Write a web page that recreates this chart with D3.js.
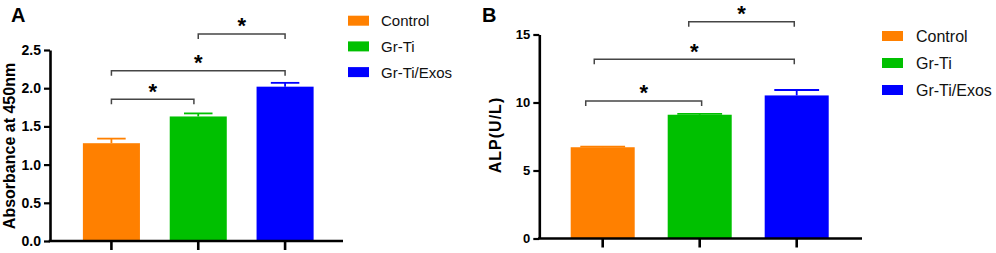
<!doctype html>
<html lang="en">
<head>
<meta charset="utf-8">
<title>Absorbance and ALP</title>
<script src="https://cdn.jsdelivr.net/npm/d3@7"></script>
<style>
	body { margin: 0; background: #fff; }
	svg { display: block; font-family: "Liberation Sans", Arial, sans-serif; }
</style>
</head>
<body>
<svg id="chart" width="996" height="253"></svg>
<script>
	// data
	var groups = ["Control", "Gr-Ti", "Gr-Ti/Exos"];
	var colors = ["#ff8000", "#00c000", "#0000ff"];

	var absMean = [1.28, 1.63, 2.02];
	var absErr = [0.06, 0.04, 0.05];
	var absTicks = [0, 0.5, 1.0, 1.5, 2.0, 2.5];
	// [from group, to group, height]
	var absSig = [[0, 0.95, 1.855], [0, 2, 2.23], [1, 2, 2.71]];

	var alpMean = [6.71, 9.10, 10.52];
	var alpErr = [0.05, 0.07, 0.40];
	var alpTicks = [0, 5, 10, 15];
	var alpSig = [[-0.175, 1.02, 10.11], [-0.087, 1.975, 13.18], [0.887, 1.975, 15.94]];

	var svg = d3.select("#chart");

	function panel(o) {
		var g = svg.append("g");
		var y = d3.scaleLinear().domain(o.domain).range([o.y0, o.y1]);
		var x = d3.scaleBand().domain(groups).range(o.xr)
			.paddingInner(o.pad).paddingOuter(o.pad / 2);
		var cx = function(i) { return x(groups[0]) + x.bandwidth() / 2 + i * x.step(); };

		// bars
		g.selectAll("rect.bar").data(o.mean).enter().append("rect")
			.attr("class", "bar")
			.attr("x", function(d, i) { return x(groups[i]); })
			.attr("width", x.bandwidth())
			.attr("y", function(d) { return y(d); })
			.attr("height", function(d) { return y(0) - y(d); })
			.style("fill", function(d, i) { return colors[i]; });

		// error bars (upper only)
		o.mean.forEach(function(d, i) {
			var c = cx(i), top = y(d + o.err[i]), hw = x.bandwidth() * o.cap / 2;
			g.append("line").attr("x1", c).attr("x2", c).attr("y1", y(d)).attr("y2", top)
				.style("stroke", colors[i]).style("stroke-width", 1.8);
			g.append("line").attr("x1", c - hw).attr("x2", c + hw).attr("y1", top).attr("y2", top)
				.style("stroke", colors[i]).style("stroke-width", 1.8);
		});

		// y axis
		var yAxis = d3.axisLeft(y).tickValues(o.ticks).tickFormat(d3.format(o.fmt))
			.tickSize(6).tickSizeOuter(0).tickPadding(3);
		var ya = g.append("g").attr("transform", "translate(" + o.ax + ",0)").call(yAxis);
		ya.select(".domain").style("stroke-width", 2.6);
		ya.selectAll(".tick line").style("stroke-width", 2.2);
		ya.selectAll(".tick text").style("font-size", o.tickFs + "px").style("font-weight", "bold").style("fill", "#000");

		// x axis
		var xAxis = d3.axisBottom(x).tickFormat("").tickSize(9).tickSizeOuter(0);
		var xa = g.append("g").attr("transform", "translate(0," + y(0) + ")").call(xAxis);
		xa.select(".domain").remove();
		xa.selectAll(".tick line").style("stroke-width", 2.6);
		g.append("line").attr("x1", o.ax - 1.3).attr("x2", o.axEnd).attr("y1", y(0)).attr("y2", y(0))
			.style("stroke", "#000").style("stroke-width", 2.6);

		// significance brackets
		o.sig.forEach(function(s) {
			var x1 = cx(s[0]), x2 = cx(s[1]), h = y(s[2]);
			g.append("path")
				.attr("d", "M" + x1 + "," + (h + 5) + "V" + h + "H" + x2 + "V" + (h + 5))
				.style("fill", "none").style("stroke", "#454545").style("stroke-width", 1.5);
			g.append("text").attr("x", (x1 + x2) / 2).attr("y", h - 13.5 + 0.58 * 22)
				.attr("text-anchor", "middle").style("font-size", "22px").style("font-weight", "bold")
				.text("*");
		});

		// y title
		g.append("text")
			.attr("transform", "translate(" + o.tx + "," + o.ty + ") rotate(-90)")
			.attr("text-anchor", "middle").style("font-size", "16px").style("font-weight", "bold")
			.style("letter-spacing", o.ls + "px")
			.text(o.title);

		// panel letter
		g.append("text").attr("x", o.lx).attr("y", 22).style("font-size", "20px").style("font-weight", "bold")
			.text(o.letter);

		// legend
		var lg = g.selectAll("g.leg").data(groups).enter().append("g")
			.attr("transform", function(d, i) { return "translate(" + o.legX + "," + (o.legY + i * o.legStep) + ")"; });
		lg.append("rect").attr("x", 0).attr("y", -5).attr("width", 21).attr("height", 10)
			.style("fill", function(d, i) { return colors[i]; });
		lg.append("text").attr("x", o.legTx).attr("y", 0).attr("dy", "0.36em")
			.style("font-size", o.legFs + "px").style("fill", "#111").text(function(d) { return d; });
	}

	panel({
		domain: [0, 2.5], y0: 241, y1: 50, xr: [68, 328.5], pad: 0.343, cap: 0.5,
		mean: absMean, err: absErr, ticks: absTicks, fmt: ".1f", tickFs: 14,
		ax: 50, axEnd: 343, sig: absSig, ls: 0,
		title: "Absorbance at 450nm", tx: 15, ty: 146, letter: "A", lx: 11,
		legX: 348, legY: 20.7, legStep: 25.7, legTx: 33, legFs: 15
	});

	panel({
		domain: [0, 15], y0: 238.5, y1: 34.5, xr: [554.2, 845.2], pad: 0.34, cap: 0.7,
		mean: alpMean, err: alpErr, ticks: alpTicks, fmt: "d", tickFs: 13,
		ax: 539.3, axEnd: 862, sig: alpSig, ls: 1,
		title: "ALP(U/L)", tx: 501, ty: 135, letter: "B", lx: 482,
		legX: 882, legY: 36, legStep: 27, legTx: 34, legFs: 16
	});
</script>
</body>
</html>
